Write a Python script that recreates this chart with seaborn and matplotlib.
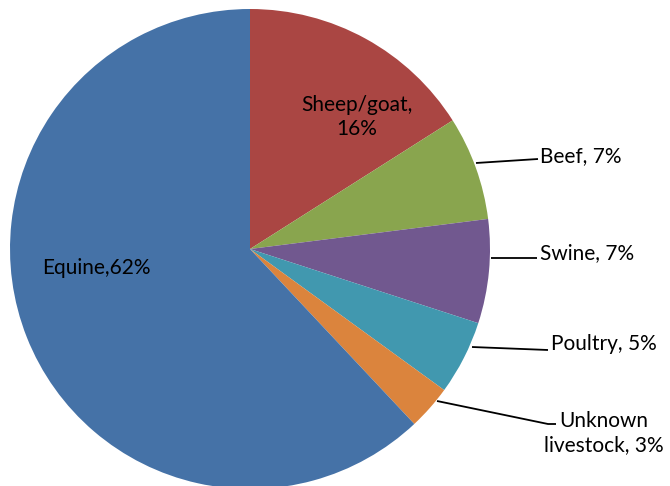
import matplotlib
matplotlib.use("Agg")
import matplotlib.pyplot as plt
import seaborn as sns

# Share of cases by animal type
categories = ["Sheep/goat", "Beef", "Swine", "Poultry", "Unknown\nlivestock", "Equine"]
shares = [16, 7, 7, 5, 3, 62]
colors = ["#AA4643", "#89A54E", "#71588F", "#4198AF", "#DB843D", "#4572A7"]

sns.set_theme(style="white")
plt.rcParams["font.family"] = ["Lato", "DejaVu Sans"]

W, H = 670, 486
fig = plt.figure(figsize=(W / 100, H / 100), dpi=100)

# pie centred at (250, 249) px with radius 240 px
cx, cy, r = 250, 249, 240
ax = fig.add_axes([(cx - r) / W, (H - cy - r) / H, 2 * r / W, 2 * r / H])

ax.pie(shares, colors=colors, startangle=90, counterclock=False, radius=1,
       wedgeprops=dict(linewidth=0))
ax.set_xlim(-1, 1)
ax.set_ylim(-1, 1)
ax.set_aspect("equal")
ax.axis("off")


def d(px, py):
    """pixel -> data coordinates"""
    return ((px - cx) / r, (cy - py) / r)


fs = 15
labels = [f"{c}, {v}%" for c, v in zip(categories, shares)]

# labels inside the large slices
ax.text(*d(357, 117), "Sheep/goat,\n16%", ha="center", va="center",
        fontsize=fs, color="black", linespacing=1.25)
ax.text(*d(42, 268), labels[5].replace(", ", ","), ha="left", va="center",
        fontsize=fs, color="black")

# outside labels with leader lines: (line points), text anchor, text
outside = [
    ([(476, 163), (538, 159)], (540, 156), labels[1], "left"),
    ([(491, 258), (537, 258)], (540, 253), labels[2], "left"),
    ([(472, 347), (548, 350)], (551, 344), labels[3], "left"),
    ([(437, 401), (548, 424), (556, 424)], (604, 433), labels[4], "center"),
]
for pts, (tx, ty), txt, ha in outside:
    xs, ys = zip(*[d(*p) for p in pts])
    ax.plot(xs, ys, color="black", lw=1.3, clip_on=False, solid_capstyle="butt")
    ax.text(*d(tx, ty), txt, ha=ha, va="center", fontsize=fs, color="black",
            linespacing=1.25, clip_on=False)

fig.savefig("out.png", dpi=100)
